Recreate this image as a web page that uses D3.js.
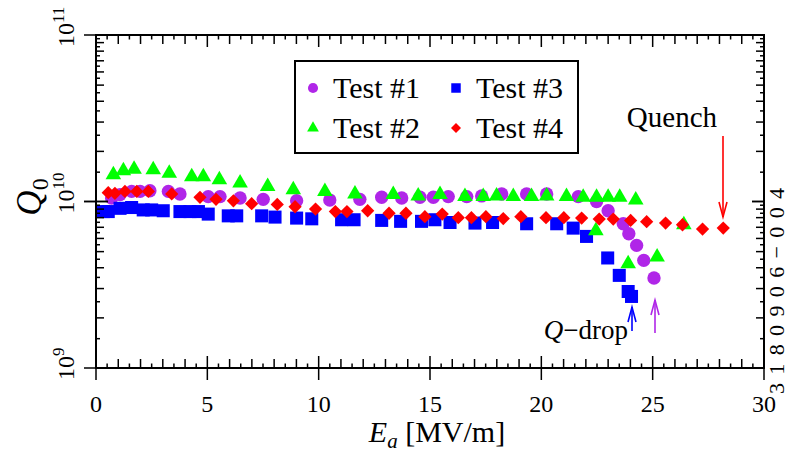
<!DOCTYPE html>
<html>
<head>
<meta charset="utf-8">
<style>
  body { margin: 0; background: #fff; }
  text { font-family: "Liberation Serif", "Times New Roman", serif; fill: #000; }
</style>
</head>
<body>
<script src="https://d3js.org/d3.v7.min.js"></script>
<script>
// Q0 values are in units of 1e10
var UNIT = 1e10;

var e1 = [0.7, 1.08, 1.6, 1.98, 2.42, 3.25, 3.77, 5.04, 5.57, 6.47, 7.51, 9.01, 10.5, 11.85, 12.83, 13.73, 14.55, 15.15, 15.82, 16.65, 17.32, 18.22, 19.34, 20.24, 21.66, 22.48, 23.0, 23.68, 23.93, 24.28, 24.6, 25.06];
var q1 = [1.05, 1.10, 1.15, 1.15, 1.16, 1.15, 1.11, 1.07, 1.07, 1.05, 1.03, 1.01, 1.02, 1.03, 1.06, 1.05, 1.06, 1.06, 1.07, 1.07, 1.08, 1.11, 1.11, 1.11, 1.07, 1.00, 0.88, 0.735, 0.64, 0.545, 0.443, 0.347];

var e2 = [0.78, 1.23, 1.71, 2.57, 3.29, 4.3, 4.82, 5.54, 6.47, 7.71, 8.86, 10.28, 11.63, 13.35, 14.47, 15.45, 16.57, 17.39, 17.99, 18.74, 19.56, 20.24, 21.13, 21.88, 22.48, 23.0, 23.52, 24.24, 22.45, 23.9, 25.2, 26.4];
var q2 = [1.45, 1.53, 1.56, 1.55, 1.48, 1.41, 1.41, 1.35, 1.29, 1.23, 1.175, 1.15, 1.11, 1.10, 1.08, 1.10, 1.07, 1.07, 1.08, 1.07, 1.07, 1.08, 1.07, 1.06, 1.06, 1.06, 1.06, 1.02, 0.667, 0.423, 0.464, 0.725];

var e3 = [0.33, 0.55, 1.08, 1.6, 2.12, 2.5, 3.02, 3.77, 4.22, 4.6, 5.04, 5.94, 6.32, 7.44, 8.04, 9.01, 9.69, 11.03, 11.59, 12.83, 13.68, 14.62, 15.22, 15.9, 17.02, 17.81, 19.34, 20.69, 21.43, 22.03, 22.98, 23.5, 23.9, 24.05];
var q3 = [0.87, 0.87, 0.91, 0.92, 0.89, 0.89, 0.88, 0.87, 0.87, 0.87, 0.84, 0.82, 0.82, 0.82, 0.806, 0.795, 0.787, 0.777, 0.777, 0.77, 0.76, 0.76, 0.777, 0.748, 0.742, 0.748, 0.735, 0.735, 0.692, 0.617, 0.458, 0.36, 0.288, 0.269];

var e4 = [0.55, 0.85, 1.30, 1.83, 2.35, 3.40, 4.67, 5.39, 6.17, 6.99, 8.14, 8.94, 9.86, 10.75, 11.27, 12.2, 13.16, 13.92, 14.77, 15.55, 16.27, 16.86, 17.51, 18.29, 19.08, 20.21, 21.01, 21.81, 22.6, 23.23, 24.01, 24.73, 25.58, 26.34, 27.24, 28.17];
var q4 = [1.13, 1.12, 1.15, 1.15, 1.15, 1.11, 1.06, 1.03, 1.01, 0.97, 0.96, 0.93, 0.90, 0.87, 0.87, 0.88, 0.85, 0.85, 0.81, 0.84, 0.80, 0.80, 0.81, 0.79, 0.81, 0.80, 0.80, 0.795, 0.784, 0.784, 0.77, 0.756, 0.742, 0.725, 0.683, 0.692];

var xTickLabels = [0, 5, 10, 15, 20, 25, 30];
var yDecades = [9, 10, 11];

var seriesNames = ["Test #1", "Test #2", "Test #3", "Test #4"];
var colors = ["#b026e8", "#00ff00", "#0000ff", "#ff0000"];

var W = 790, H = 459;
var pl = 96, pr = 764, pt = 35, pb = 368;

var x = d3.scaleLinear().domain([0, 30]).range([pl, pr]);
var y = d3.scaleLog().domain([1e9, 1e11]).range([pb, pt]);

var svg = d3.select("body").append("svg")
  .attr("width", W)
  .attr("height", H);

svg.append("clipPath").attr("id", "plotclip")
  .append("rect")
  .attr("x", pl).attr("y", pt)
  .attr("width", pr - pl).attr("height", pb - pt);

// marker shapes
var circle = d3.symbol().type(d3.symbolCircle).size(140);
var square = d3.symbol().type(d3.symbolSquare).size(170);
var triangle = d3.symbol().type(d3.symbolTriangle).size(105);
var diamond = d3.symbol().type(d3.symbolSquare).size(88);

function zip(es, qs) {
  return es.map(function(e, i) { return { e: e, q: qs[i] * UNIT }; });
}

var plot = svg.append("g").attr("clip-path", "url(#plotclip)");

function drawSeries(data, sym, color, rot) {
  plot.append("g").selectAll("path")
    .data(data)
    .enter().append("path")
    .attr("d", sym)
    .attr("fill", color)
    .attr("transform", function(d) {
      return "translate(" + x(d.e) + "," + y(d.q) + ")" + (rot ? " rotate(45)" : "");
    });
}

drawSeries(zip(e1, q1), circle, colors[0], false);
drawSeries(zip(e3, q3), square, colors[2], false);
drawSeries(zip(e2, q2), triangle, colors[1], false);
drawSeries(zip(e4, q4), diamond, colors[3], true);

// frame
svg.append("rect")
  .attr("x", pl).attr("y", pt)
  .attr("width", pr - pl).attr("height", pb - pt)
  .attr("fill", "none")
  .attr("stroke", "#000")
  .attr("stroke-width", 2);

// x ticks (bottom + top)
var xt = d3.range(0, 30.01, 0.5);
var ticks = svg.append("g").attr("stroke", "#000").attr("stroke-width", 1.5);
xt.forEach(function(v) {
  var major = Math.abs(v % 5) < 1e-9;
  var whole = Math.abs(v % 1) < 1e-9;
  var len = major ? 12 : (whole ? 9 : 4.5);
  var px = x(v);
  ticks.append("line").attr("x1", px).attr("x2", px)
    .attr("y1", pb).attr("y2", pb - len);
  ticks.append("line").attr("x1", px).attr("x2", px)
    .attr("y1", pt).attr("y2", pt + len);
  if (major) {
    ticks.append("line").attr("x1", px).attr("x2", px)
      .attr("y1", pb).attr("y2", pb + 12);
  }
});

// y ticks (left + right)
[1e9, 1e10].forEach(function(dec) {
  d3.range(1, 10.01, 0.5).forEach(function(k) {
    var v = k * dec;
    var py = y(v);
    var major = k === 1 || k === 10;
    var whole = Math.abs(k % 1) < 1e-9;
    var len = major ? 12 : (whole ? 8 : 4);
    ticks.append("line").attr("x1", pl).attr("x2", pl + len)
      .attr("y1", py).attr("y2", py);
    ticks.append("line").attr("x1", pr).attr("x2", pr - len)
      .attr("y1", py).attr("y2", py);
    if (major) {
      ticks.append("line").attr("x1", pl).attr("x2", pl - 12)
        .attr("y1", py).attr("y2", py);
    }
  });
});

// x tick labels
svg.append("g").selectAll("text")
  .data(xTickLabels)
  .enter().append("text")
  .attr("x", function(d) { return x(d); })
  .attr("y", 412)
  .attr("text-anchor", "middle")
  .attr("font-size", 24)
  .text(function(d) { return d; });

// y tick labels, rotated
yDecades.forEach(function(p) {
  var t = svg.append("text")
    .attr("transform", "translate(74," + y(Math.pow(10, p)) + ") rotate(-90)")
    .attr("x", -12)
    .attr("font-size", 24);
  t.append("tspan").text("10");
  t.append("tspan").attr("dy", -10).attr("font-size", 17).text(p);
});

// axis titles
var xt1 = svg.append("text")
  .attr("x", 437).attr("y", 442)
  .attr("text-anchor", "middle")
  .attr("font-size", 30);
xt1.append("tspan").attr("font-style", "italic").text("E");
xt1.append("tspan").attr("font-style", "italic").attr("font-size", 21).attr("dy", 6).text("a");
xt1.append("tspan").attr("dy", -6).text(" [MV/m]");

var yt1 = svg.append("text")
  .attr("transform", "translate(41,197) rotate(-90)")
  .attr("text-anchor", "middle")
  .attr("font-size", 35);
yt1.append("tspan").attr("font-style", "italic").text("Q");
yt1.append("tspan").attr("font-size", 24).attr("dy", 7).text("0");

// figure id on right side
svg.append("text")
  .attr("transform", "translate(784,291) rotate(-90)")
  .attr("text-anchor", "middle")
  .attr("font-family", "DejaVu Sans, sans-serif")
  .attr("font-size", 22)
  .attr("textLength", 206)
  .attr("lengthAdjust", "spacing")
  .text("3180906\u2212004");

// legend
var lg = svg.append("g");
lg.append("rect")
  .attr("x", 295).attr("y", 61)
  .attr("width", 283).attr("height", 92)
  .attr("fill", "#fff")
  .attr("stroke", "#000")
  .attr("stroke-width", 2);

var legendItems = [
  { name: seriesNames[0], sym: d3.symbol().type(d3.symbolCircle).size(80), color: colors[0], rot: false, lx: 313, ly: 88 },
  { name: seriesNames[1], sym: d3.symbol().type(d3.symbolTriangle).size(60), color: colors[1], rot: false, lx: 313, ly: 128 },
  { name: seriesNames[2], sym: d3.symbol().type(d3.symbolSquare).size(90), color: colors[2], rot: false, lx: 456, ly: 88 },
  { name: seriesNames[3], sym: d3.symbol().type(d3.symbolSquare).size(50), color: colors[3], rot: true, lx: 456, ly: 128 }
];
legendItems.forEach(function(it) {
  lg.append("path")
    .attr("d", it.sym)
    .attr("fill", it.color)
    .attr("transform", "translate(" + it.lx + "," + it.ly + ")" + (it.rot ? " rotate(45)" : ""));
  lg.append("text")
    .attr("x", it.lx + 20).attr("y", it.ly + 10)
    .attr("font-size", 30)
    .text(it.name);
});

// annotations
svg.append("text")
  .attr("x", 717).attr("y", 127)
  .attr("text-anchor", "end")
  .attr("font-size", 29)
  .text("Quench");

var qd = svg.append("text")
  .attr("x", 628).attr("y", 339)
  .attr("text-anchor", "end")
  .attr("font-size", 27);
qd.append("tspan").attr("font-style", "italic").text("Q");
qd.append("tspan").text("\u2212drop");

function arrow(xv, y0, y1, color) {
  var dir = y1 > y0 ? -1 : 1;
  var g = svg.append("g").attr("stroke", color).attr("stroke-width", 1.6).attr("fill", "none");
  g.append("line").attr("x1", xv).attr("x2", xv).attr("y1", y0).attr("y2", y1);
  g.append("path").attr("d",
    "M" + (xv - 4) + "," + (y1 + dir * 15) + " L" + xv + "," + y1 + " L" + (xv + 4) + "," + (y1 + dir * 15));
}
arrow(723, 136, 217, colors[3]);
arrow(632, 331, 307, colors[2]);
arrow(655, 333, 300, colors[0]);
</script>
</body>
</html>
